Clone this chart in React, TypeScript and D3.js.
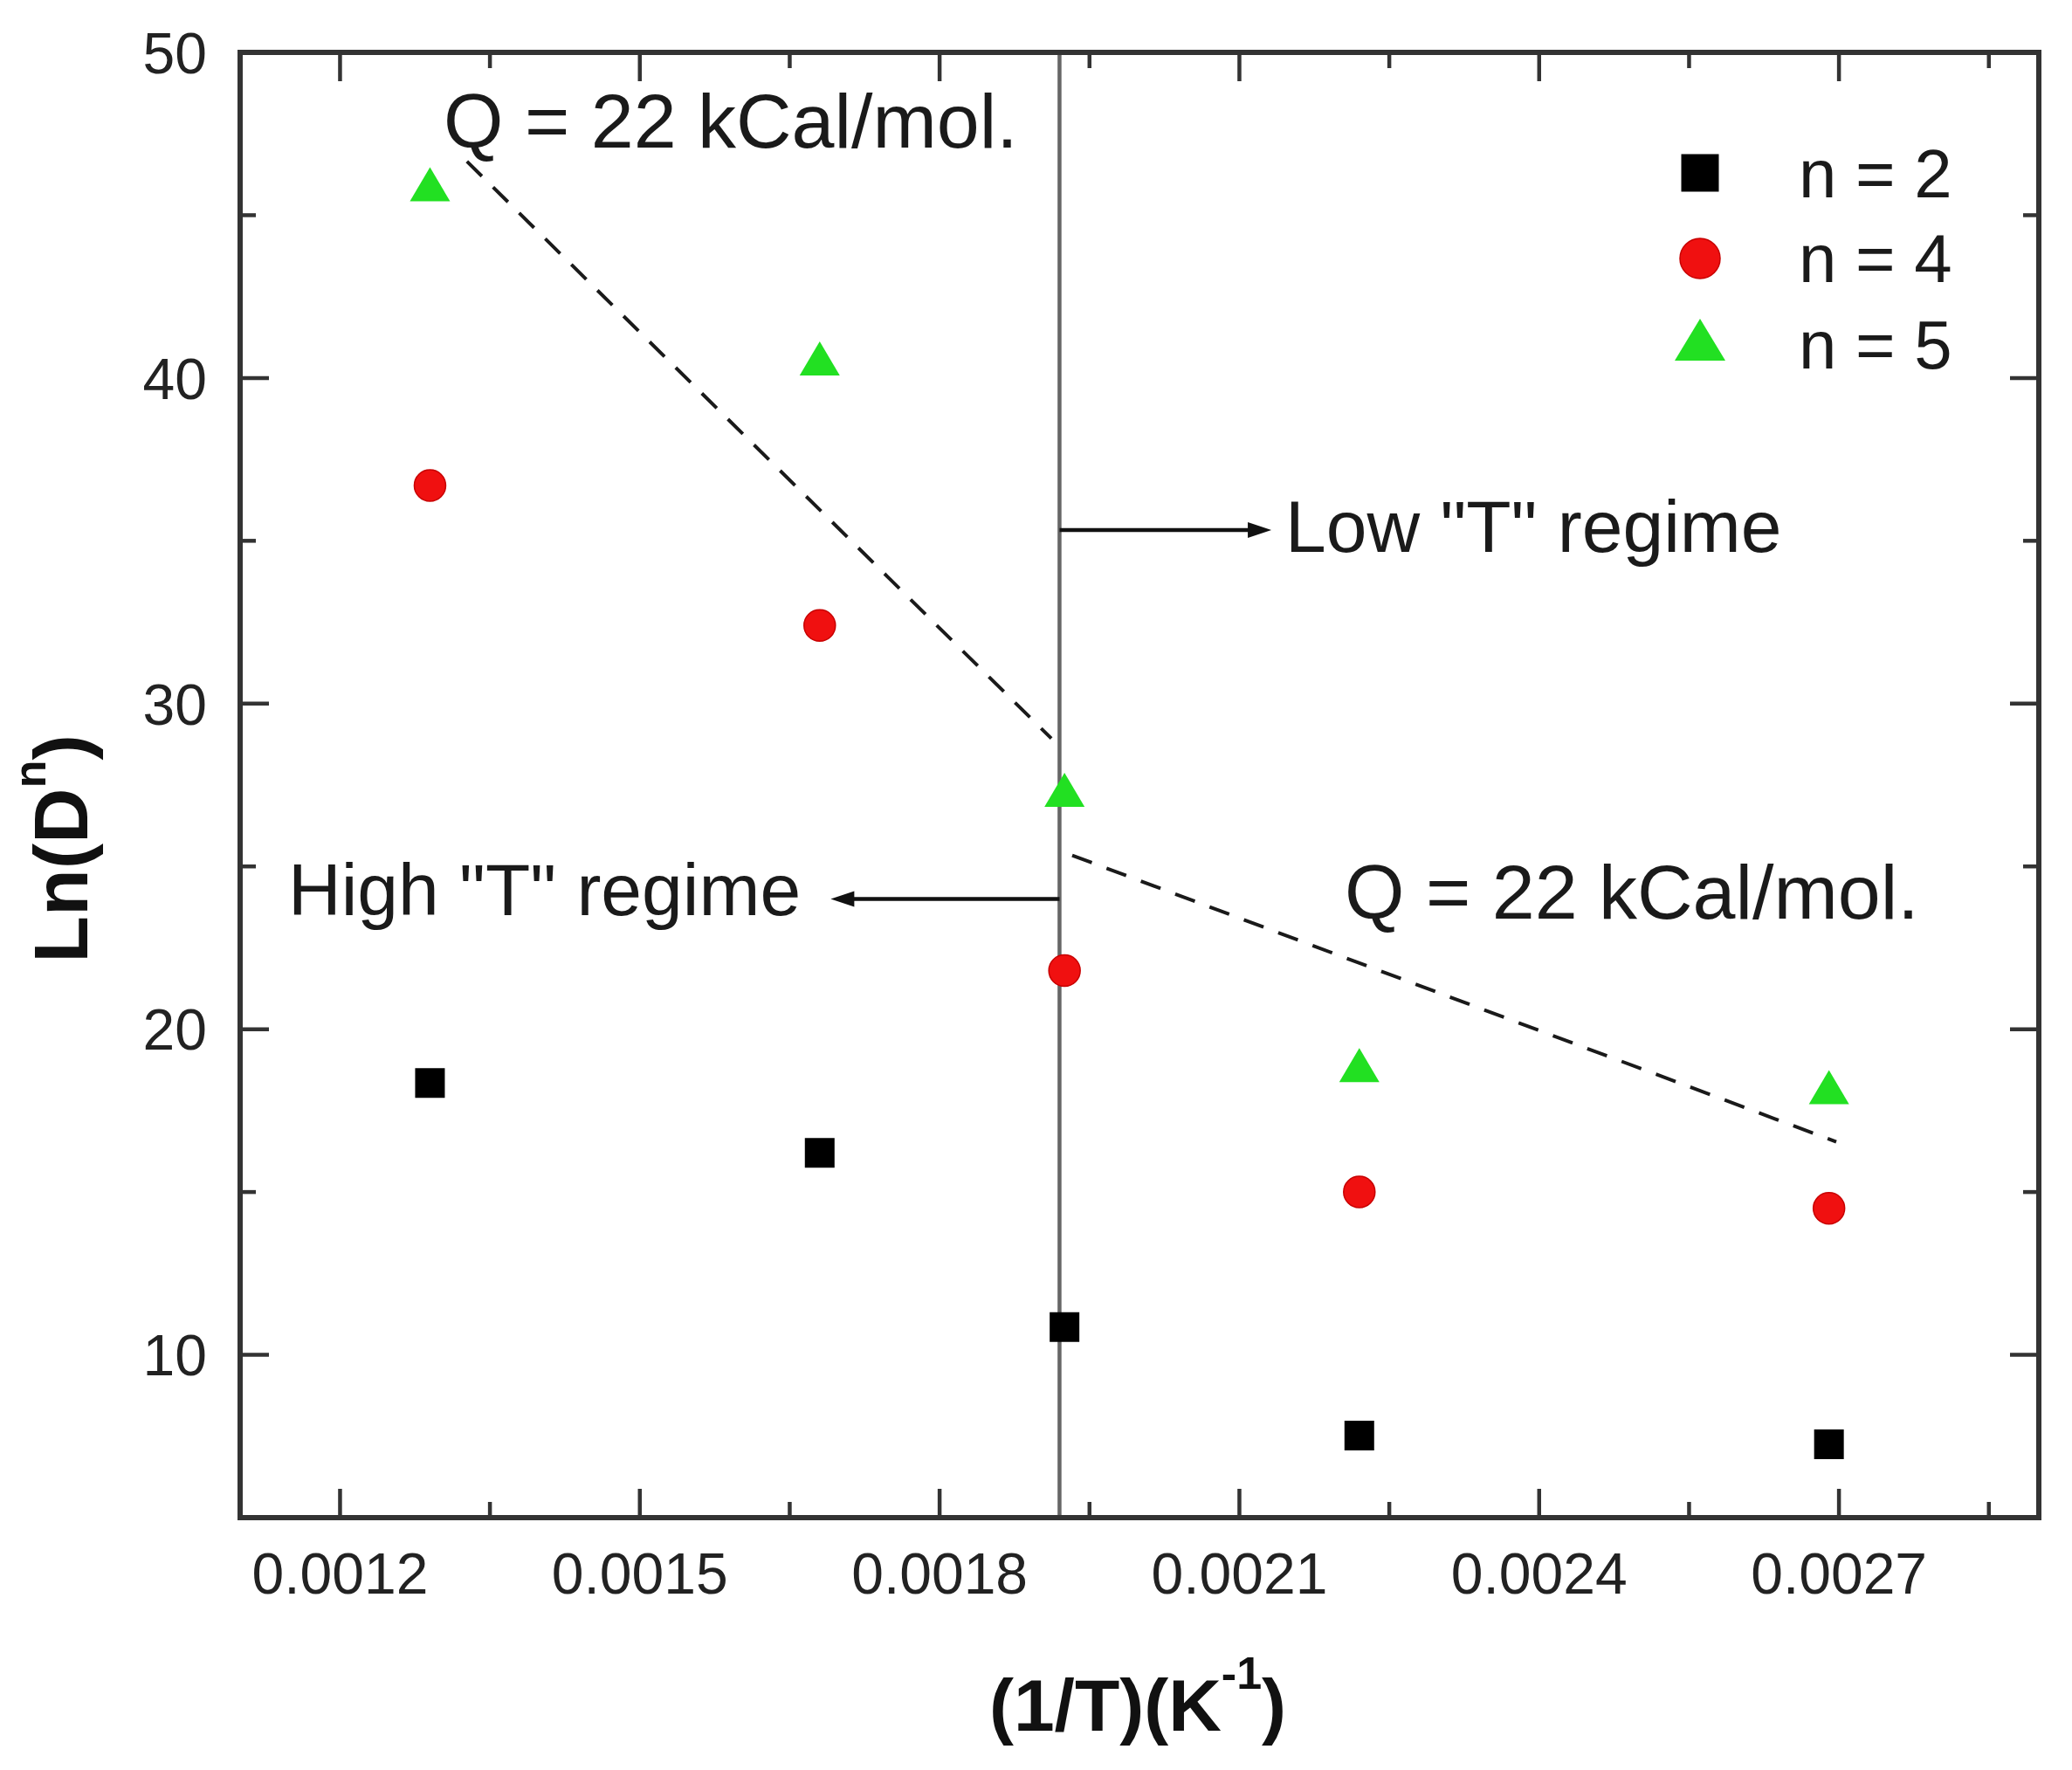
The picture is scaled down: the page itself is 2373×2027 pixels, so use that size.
import { useEffect, useRef } from 'react';
import * as d3 from 'd3';

// 1/T values (K^-1)
const invT = [0.00129, 0.00168, 0.001925, 0.00222, 0.00269];

// Ln(D^n) per exponent
const seriesN2 = [18.35, 16.2, 10.85, 7.52, 7.25];
const seriesN4 = [36.7, 32.4, 21.8, 15.0, 14.5];
const seriesN5 = [45.95, 40.6, 27.35, 18.9, 18.22];

const seriesLabels = ['n = 2', 'n = 4', 'n = 5'];

// axis ticks
const xMajorTicks = [0.0012, 0.0015, 0.0018, 0.0021, 0.0024, 0.0027];
const xMinorTicks = [0.00135, 0.00165, 0.00195, 0.00225, 0.00255, 0.00285];
const yMajorTicks = [10, 20, 30, 40, 50];
const yMinorTicks = [15, 25, 35, 45];

// dashed fit lines [1/T, Ln(D^n)]
const fitHigh: [number, number][] = [[0.001327, 46.65], [0.0019118, 28.93]];
const fitLow: [number, number][] = [[0.0019327, 25.34], [0.0026973, 16.54]];

// regime boundary
const boundaryX = 0.00192;
const lowArrow = { y: 35.33, to: 0.002132 };
const highArrow = { y: 24.0, to: 0.001691 };

export default function App() {
  const svgRef = useRef<SVGSVGElement>(null);

  useEffect(() => {
    if (!svgRef.current) return;
    const width = 2373;
    const height = 2027;

    d3.select(svgRef.current).selectAll('*').remove();

    const svg = d3.select(svgRef.current)
      .attr('width', width)
      .attr('height', height);

    svg.append('rect')
      .attr('width', width)
      .attr('height', height)
      .attr('fill', '#ffffff');

    const left = 275, right = 2335, top = 60, bottom = 1738;
    const font = 'Liberation Sans, Arial, sans-serif';
    const axisColor = '#333333';

    const x = d3.scaleLinear().domain([0.0011, 0.0029]).range([left, right]);
    const y = d3.scaleLinear().domain([5, 50]).range([bottom, top]);

    // regime boundary line
    svg.append('line')
      .attr('x1', x(boundaryX)).attr('x2', x(boundaryX))
      .attr('y1', top).attr('y2', bottom)
      .attr('stroke', '#666666')
      .attr('stroke-width', 4.5);

    // dashed fit lines
    const line = d3.line<[number, number]>()
      .x(d => x(d[0]))
      .y(d => y(d[1]));

    [fitHigh, fitLow].forEach(seg => {
      svg.append('path')
        .attr('d', line(seg))
        .attr('fill', 'none')
        .attr('stroke', '#1a1a1a')
        .attr('stroke-width', 4)
        .attr('stroke-dasharray', '24,18');
    });

    // arrows
    const arrow = (x0: number, x1: number, yy: number) => {
      const dir = x1 > x0 ? 1 : -1;
      const headLen = 27, headW = 9;
      svg.append('line')
        .attr('x1', x0).attr('x2', x1 - dir * headLen * 0.8)
        .attr('y1', yy).attr('y2', yy)
        .attr('stroke', '#111')
        .attr('stroke-width', 4.5);
      svg.append('path')
        .attr('d', `M${x1},${yy} L${x1 - dir * headLen},${yy - headW} L${x1 - dir * headLen},${yy + headW} Z`)
        .attr('fill', '#111');
    };
    arrow(x(boundaryX), x(lowArrow.to), y(lowArrow.y));
    arrow(x(boundaryX), x(highArrow.to), y(highArrow.y));

    // frame
    svg.append('rect')
      .attr('x', left).attr('y', top)
      .attr('width', right - left).attr('height', bottom - top)
      .attr('fill', 'none')
      .attr('stroke', axisColor)
      .attr('stroke-width', 6);

    // ticks (inward on all four sides)
    const tickG = svg.append('g').attr('stroke', axisColor).attr('stroke-width', 4.5);
    const drawXTicks = (vals: number[], len: number) => {
      vals.forEach(v => {
        tickG.append('line').attr('x1', x(v)).attr('x2', x(v)).attr('y1', bottom).attr('y2', bottom - len);
        tickG.append('line').attr('x1', x(v)).attr('x2', x(v)).attr('y1', top).attr('y2', top + len);
      });
    };
    const drawYTicks = (vals: number[], len: number) => {
      vals.forEach(v => {
        tickG.append('line').attr('x1', left).attr('x2', left + len).attr('y1', y(v)).attr('y2', y(v));
        tickG.append('line').attr('x1', right).attr('x2', right - len).attr('y1', y(v)).attr('y2', y(v));
      });
    };
    drawXTicks(xMajorTicks, 33);
    drawXTicks(xMinorTicks, 18);
    drawYTicks(yMajorTicks, 33);
    drawYTicks(yMinorTicks, 18);

    // tick labels
    svg.append('g')
      .selectAll('text')
      .data(xMajorTicks)
      .join('text')
      .attr('x', d => x(d))
      .attr('y', 1825)
      .attr('text-anchor', 'middle')
      .attr('font-family', font)
      .attr('font-size', 66)
      .attr('fill', '#222')
      .text(d => d.toFixed(4));

    svg.append('g')
      .selectAll('text')
      .data(yMajorTicks)
      .join('text')
      .attr('x', 237)
      .attr('y', d => y(d))
      .attr('dy', '0.36em')
      .attr('text-anchor', 'end')
      .attr('font-family', font)
      .attr('font-size', 66)
      .attr('fill', '#222')
      .text(d => d);

    // markers
    const square = (s: number) => `M${-s / 2},${-s / 2}h${s}v${s}h${-s}Z`;
    const triangle = (w: number, h: number) => `M0,${-h / 2}L${w / 2},${h / 2}L${-w / 2},${h / 2}Z`;

    const pts = (vals: number[]) => invT.map((t, i) => ({ t, v: vals[i] }));

    svg.append('g')
      .selectAll('path')
      .data(pts(seriesN2))
      .join('path')
      .attr('transform', d => `translate(${x(d.t)},${y(d.v)})`)
      .attr('d', square(34))
      .attr('fill', '#000');

    svg.append('g')
      .selectAll('circle')
      .data(pts(seriesN4))
      .join('circle')
      .attr('cx', d => x(d.t))
      .attr('cy', d => y(d.v))
      .attr('r', 18)
      .attr('fill', '#f01010')
      .attr('stroke', '#c80000')
      .attr('stroke-width', 1.5);

    svg.append('g')
      .selectAll('path')
      .data(pts(seriesN5))
      .join('path')
      .attr('transform', d => `translate(${x(d.t)},${y(d.v)})`)
      .attr('d', triangle(46, 39))
      .attr('fill', '#22e022');

    // annotations
    const annot = (tx: number, ty: number, str: string, size: number) => {
      svg.append('text')
        .attr('x', tx).attr('y', ty)
        .attr('font-family', font)
        .attr('font-size', size)
        .attr('fill', '#1a1a1a')
        .text(str);
    };
    annot(508, 169, 'Q = 22 kCal/mol.', 88);
    annot(1540, 1052, 'Q = 22 kCal/mol.', 88);
    annot(1472, 632, 'Low "T" regime', 84);
    annot(330, 1048, 'High "T" regime', 84);

    // legend
    const legend = svg.append('g').attr('transform', 'translate(1947, 0)');
    legend.append('path').attr('transform', 'translate(0,198)').attr('d', square(43)).attr('fill', '#000');
    legend.append('circle').attr('cx', 0).attr('cy', 296).attr('r', 23)
      .attr('fill', '#f01010').attr('stroke', '#c80000').attr('stroke-width', 1.5);
    legend.append('path').attr('transform', 'translate(0,389)').attr('d', triangle(58, 48)).attr('fill', '#22e022');
    const legendBaselines = [226, 323, 422];
    seriesLabels.forEach((lab, i) => {
      legend.append('text')
        .attr('x', 113)
        .attr('y', legendBaselines[i])
        .attr('font-family', font)
        .attr('font-size', 78)
        .attr('fill', '#1a1a1a')
        .text(lab);
    });

    // axis titles
    const xTitle = svg.append('text')
      .attr('x', 1303)
      .attr('y', 1982)
      .attr('text-anchor', 'middle')
      .attr('font-family', font)
      .attr('font-weight', 'bold')
      .attr('font-size', 84)
      .attr('fill', '#111');
    xTitle.append('tspan').text('(1/T)(K');
    xTitle.append('tspan').attr('font-size', 52).attr('dy', -48).text('-1');
    xTitle.append('tspan').attr('dy', 48).text(')');

    const yTitle = svg.append('text')
      .attr('transform', 'translate(100, 972) rotate(-90)')
      .attr('text-anchor', 'middle')
      .attr('font-family', font)
      .attr('font-weight', 'bold')
      .attr('font-size', 88)
      .attr('fill', '#111');
    yTitle.append('tspan').text('Ln(D');
    yTitle.append('tspan').attr('font-size', 52).attr('dy', -48).text('n');
    yTitle.append('tspan').attr('dy', 48).text(')');
  }, []);

  return (
    <svg
      ref={svgRef}
      style={{ position: 'absolute', left: 0, top: 0, display: 'block' }}
    />
  );
}
